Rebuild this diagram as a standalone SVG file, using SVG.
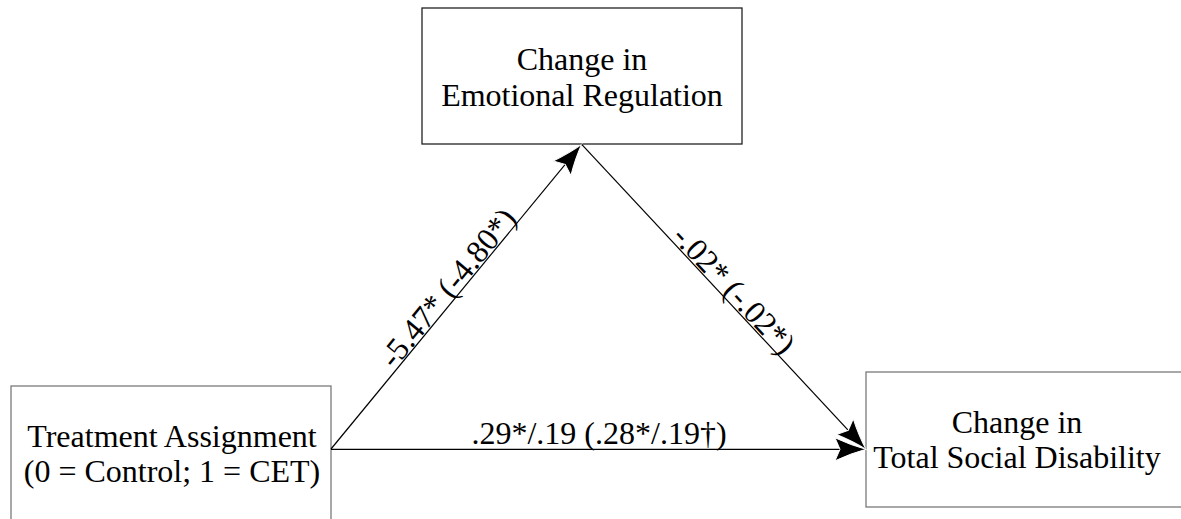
<svg xmlns="http://www.w3.org/2000/svg" width="1181" height="519" viewBox="0 0 1181 519">
  <style>
    .box { fill: #ffffff; stroke-width: 1.3; }
    .lbl { font-family: "Liberation Serif", "Times New Roman", serif; font-size: 32px; fill: #000000; text-anchor: middle; }
    .edge { stroke: #000000; stroke-width: 1.2; fill: none; }
  </style>
  <defs>
    <marker id="arrow" viewBox="-33 -13 35 26" refX="0" refY="0" markerWidth="35" markerHeight="26" markerUnits="userSpaceOnUse" orient="auto">
      <path d="M0,0 Q-15,-4 -31,-11.5 L-26,0 L-31,11.5 Q-15,4 0,0 Z" fill="#000000" stroke="#ffffff" stroke-width="1"/>
    </marker>
  </defs>
  <rect width="1181" height="519" fill="#ffffff"/>

  <g id="node-emotional">
    <rect class="box" x="422" y="8" width="320" height="136" stroke="#222222"/>
    <text class="lbl" x="582" y="70">Change in</text>
    <text class="lbl" x="582" y="106">Emotional Regulation</text>
  </g>

  <g id="node-treatment">
    <rect class="box" x="11" y="386" width="320" height="150" stroke="#7a7a7a"/>
    <text class="lbl" x="172" y="447">Treatment Assignment</text>
    <text class="lbl" x="172" y="482">(0 = Control; 1 = CET)</text>
  </g>

  <g id="node-social">
    <rect class="box" x="866" y="372" width="330" height="135" stroke="#7a7a7a"/>
    <text class="lbl" x="1017" y="433">Change in</text>
    <text class="lbl" x="1017" y="468">Total Social Disability</text>
  </g>

  <g id="connectors">
    <line class="edge" x1="331" y1="449" x2="581.7" y2="144.3" marker-end="url(#arrow)"/>
    <line class="edge" x1="581.7" y1="144.3" x2="866" y2="449.3" marker-end="url(#arrow)"/>
    <line class="edge" x1="331" y1="449.3" x2="866" y2="449.3" marker-end="url(#arrow)"/>
    <text class="lbl" transform="translate(456,294.5) rotate(-50.6)">-5.47* (-4.80*)</text>
    <text class="lbl" transform="translate(726.4,297.1) rotate(47)">-.02* (-.02*)</text>
    <text class="lbl" x="599" y="444">.29*/.19 (.28*/.19†)</text>
  </g>
</svg>
